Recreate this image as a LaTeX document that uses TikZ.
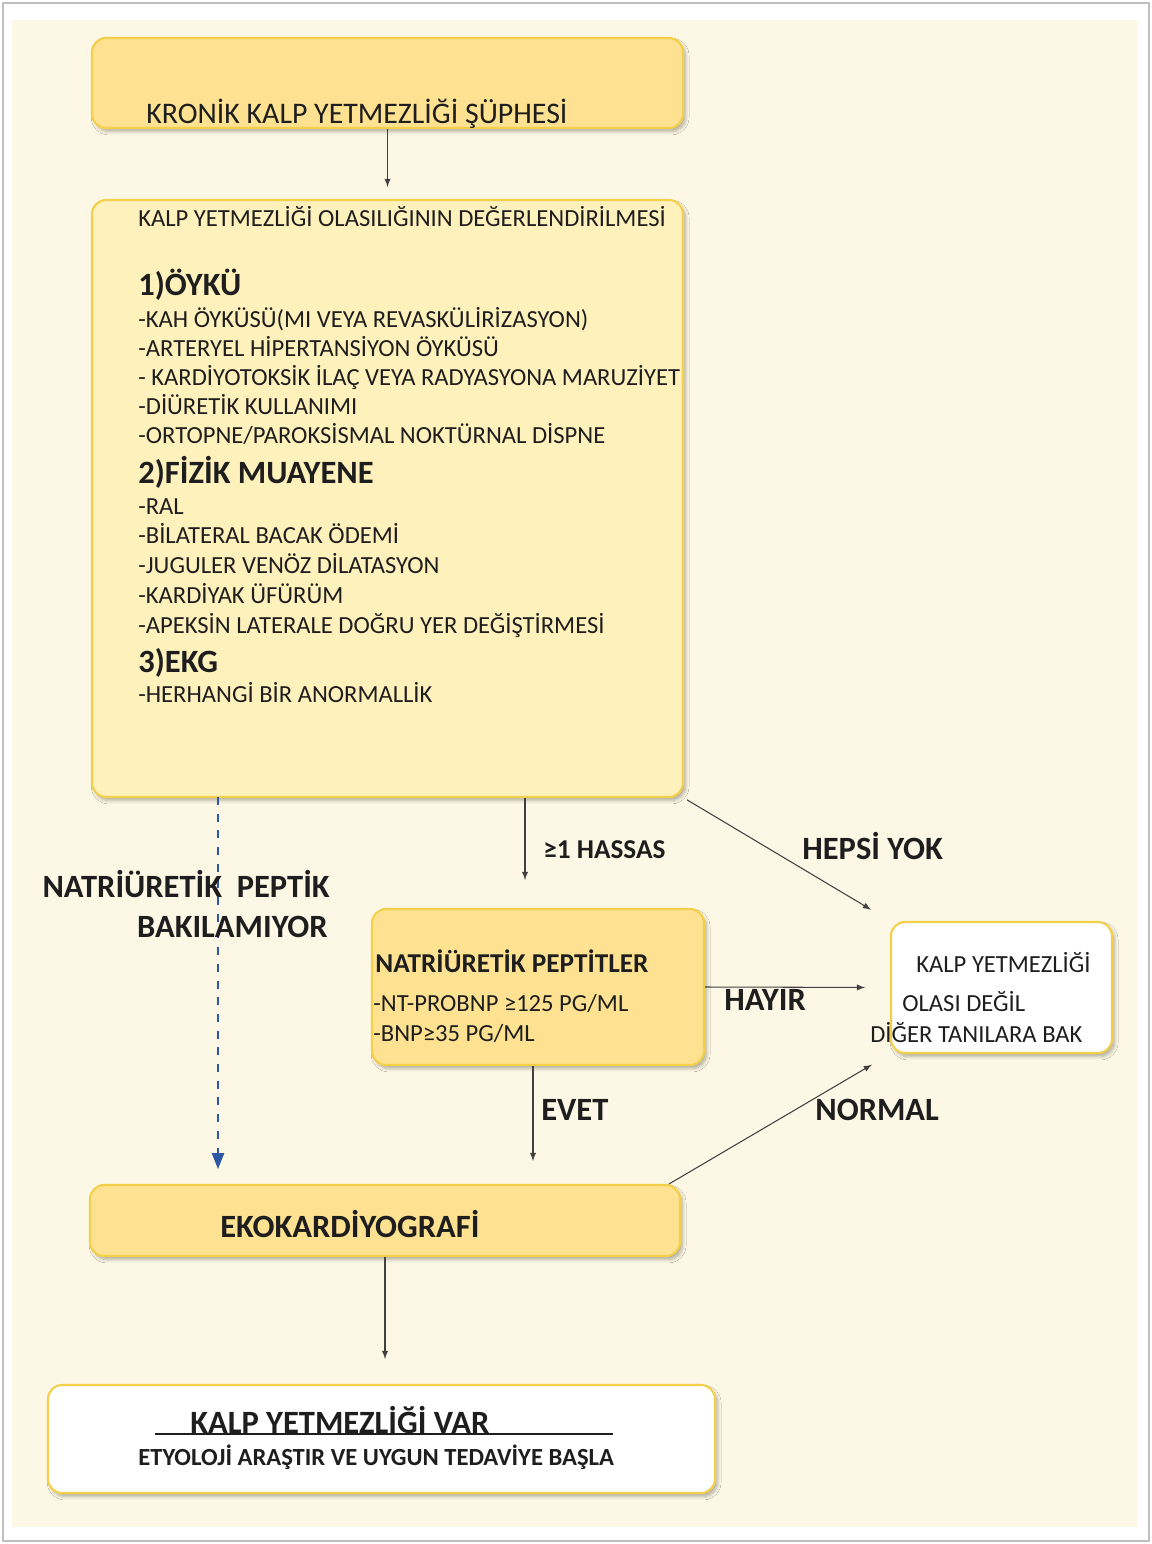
\documentclass[tikz,border=0pt]{standalone}
\usepackage{fontspec}
\setmainfont{Carlito}
\usetikzlibrary{arrows,arrows.meta,fit,shadows.blur}
\definecolor{cream}{HTML}{FDF8E5}
\definecolor{boxdark}{HTML}{FEE291}
\definecolor{boxlight}{HTML}{FFF1BC}
\definecolor{boxedge}{HTML}{F4D04A}
\definecolor{dashblue}{HTML}{2E58A6}
\definecolor{ink}{HTML}{1E1E1E}

\begin{document}
\begin{tikzpicture}[x=0.02cm,y=-0.02cm,
  panel/.style={draw=boxedge,line width=1.2pt,rounded corners=8pt,inner sep=0pt,
    blur shadow={shadow xshift=1.5pt,shadow yshift=-2pt,shadow blur steps=6,shadow opacity=30}},
  darkbox/.style={panel,fill=boxdark},
  lightbox/.style={panel,fill=boxlight},
  whitebox/.style={panel,fill=white},
  txt/.style={anchor=base west,inner sep=0pt,text=ink,font=\fontsize{14}{17}\selectfont},
  head/.style={txt,font=\fontsize{18.5}{22}\selectfont\bfseries},
  lbl/.style={txt,font=\fontsize{18.5}{22}\selectfont\bfseries},
  arr/.style={-latex,line width=0.6pt,draw=ink!85}]

\useasboundingbox (0,0) rectangle (1152,1544);
\fill[white] (0,0) rectangle (1152,1544);
\draw[black!25,line width=0.8pt] (3,3) rectangle (1149,1541);
\fill[cream] (12,20) rectangle (1137,1527);

% boxes
\node[darkbox,fit={(92,38)(683,128)}] (kron) {};
\node[lightbox,fit={(92,200)(683,797)}] (assess) {};
\node[darkbox,fit={(372,909)(704,1065)}] (pept) {};
\node[whitebox,fit={(891,922)(1112,1053)}] (unlikely) {};
\node[darkbox,fit={(90,1185)(680,1256)}] (echo) {};
\node[whitebox,fit={(48,1385)(715,1493)}] (hfvar) {};

\node[txt,font=\fontsize{17}{20}\selectfont] (kront) at (146,124) {KRONİK KALP YETMEZLİĞİ ŞÜPHESİ};

\node[txt] (t0) at (138,227) {KALP YETMEZLİĞİ OLASILIĞININ DEĞERLENDİRİLMESİ};
\node[head] (h1) at (138,295) {1)ÖYKÜ};
\node[txt] (a1) at (138,327) {-KAH ÖYKÜSÜ(MI VEYA REVASKÜLİRİZASYON)};
\node[txt] (a2) at (138,356) {-ARTERYEL HİPERTANSİYON ÖYKÜSÜ};
\node[txt] (a3) at (138,385) {- KARDİYOTOKSİK İLAÇ VEYA RADYASYONA MARUZİYET};
\node[txt] (a4) at (138,414) {-DİÜRETİK KULLANIMI};
\node[txt] (a5) at (138,443) {-ORTOPNE/PAROKSİSMAL NOKTÜRNAL DİSPNE};
\node[head] (h2) at (138,483) {2)FİZİK MUAYENE};
\node[txt] (b1) at (138,514) {-RAL};
\node[txt] (b2) at (138,543) {-BİLATERAL BACAK ÖDEMİ};
\node[txt] (b3) at (138,573) {-JUGULER VENÖZ DİLATASYON};
\node[txt] (b4) at (138,603) {-KARDİYAK ÜFÜRÜM};
\node[txt] (b5) at (138,633) {-APEKSİN LATERALE DOĞRU YER DEĞİŞTİRMESİ};
\node[head] (h3) at (138,672) {3)EKG};
\node[txt] (c1) at (138,702) {-HERHANGİ BİR ANORMALLİK};

\node[txt,font=\fontsize{15.5}{18}\selectfont\bfseries] (pt0) at (375,972) {NATRİÜRETİK PEPTİTLER};
\node[txt,font=\fontsize{14}{17}\selectfont] (pt1) at (373,1011) {-NT-PROBNP ≥125 PG/ML};
\node[txt,font=\fontsize{14}{17}\selectfont] (pt2) at (373,1041) {-BNP≥35 PG/ML};

\node[txt,font=\fontsize{14}{17}\selectfont] (u1) at (916,972) {KALP YETMEZLİĞİ};
\node[txt,font=\fontsize{14}{17}\selectfont] (u2) at (902,1011) {OLASI DEĞİL};
\node[txt,font=\fontsize{14}{17}\selectfont] (u3) at (870,1042) {DİĞER TANILARA BAK};

\node[txt,font=\fontsize{18.5}{22}\selectfont\bfseries] (echot) at (220,1237) {EKOKARDİYOGRAFİ};

\node[txt,font=\fontsize{18.5}{22}\selectfont\bfseries] (v1) at (190,1433) {KALP YETMEZLİĞİ VAR};
\draw[ink,line width=0.6pt] (155,1434) -- (613,1434);
\node[txt,font=\fontsize{14}{17}\selectfont\bfseries] (v2) at (138,1465) {ETYOLOJİ ARAŞTIR VE UYGUN TEDAVİYE BAŞLA};

% connectors
\coordinate (dtop) at (218,797);
\draw[arr,shorten >=0.24cm] (kron.south) -- (assess.north);
\draw[arr,shorten >=0.56cm] ([xshift=-0.26cm]pept.north |- assess.south) -- ([xshift=-0.26cm]pept.north);
\draw[arr,shorten <=2pt,shorten >=0.44cm] (assess.south east) -- (unlikely.north west);
\draw[arr,shorten >=0.5cm] (pept.east) -- (unlikely.west);
\draw[arr,shorten >=0.46cm] ([xshift=-0.1cm]pept.south) -- ([xshift=-0.1cm]pept.south |- echo.north);
\draw[arr,shorten >=0.42cm] ([xshift=-0.24cm]echo.north east) -- (unlikely.south west);
\draw[arr,shorten >=0.5cm] (echo.south) -- (echo.south |- hfvar.north);
\draw[dashblue,line width=0.8pt,dash pattern=on 4.5pt off 5pt,-{Triangle[length=9pt,width=7pt]},shorten >=0.3cm] (dtop) -- (dtop |- echo.north);

\node[lbl,font=\fontsize{15.5}{18}\selectfont\bfseries] (hassas) at (543,858) {≥1 HASSAS};
\node[lbl] (hepsi) at (802,859) {HEPSİ YOK};
\node[lbl,anchor=base east] (npl) at (330,897) {NATRİÜRETİK\ \ PEPTİK};
\node[lbl,anchor=base east] (bak) at (328,937) {BAKILAMIYOR};
\node[lbl] (hayir) at (724,1010) {HAYIR};
\node[lbl] (evet) at (541,1120) {EVET};
\node[lbl] (normal) at (815,1120) {NORMAL};
\end{tikzpicture}
\end{document}
